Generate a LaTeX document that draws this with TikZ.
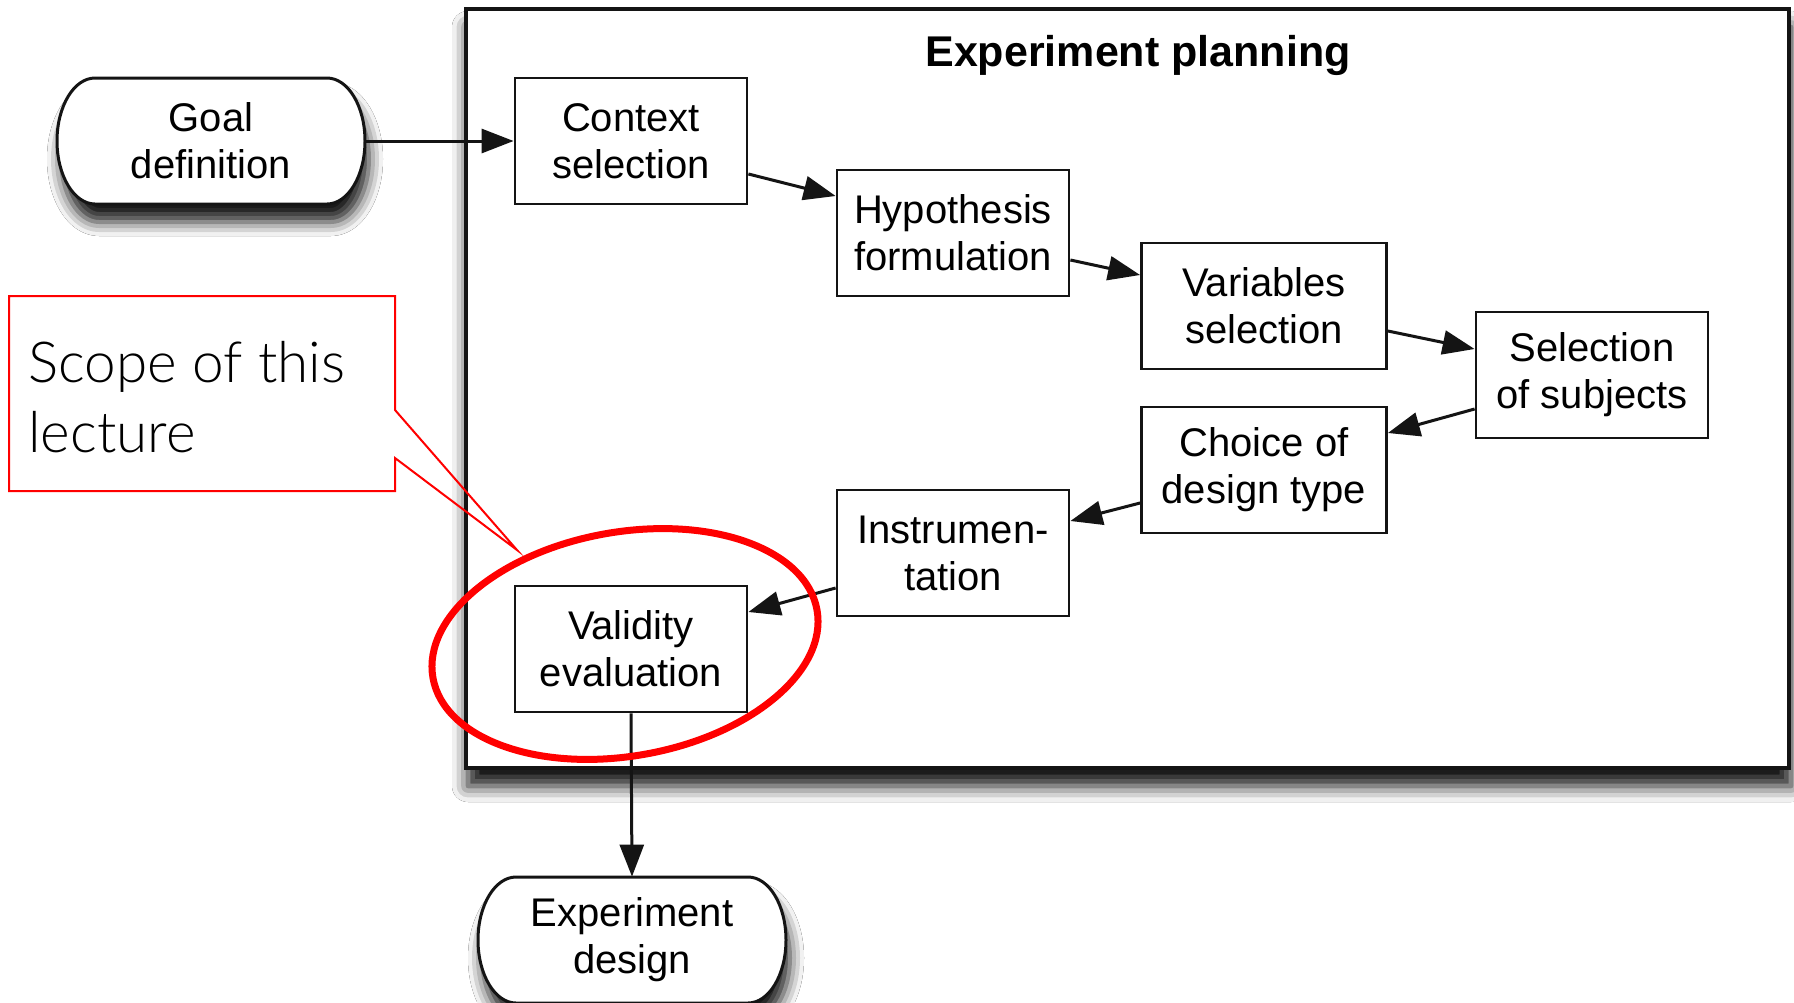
\documentclass[tikz,border=0pt]{standalone}
\usepackage{fontspec}
\setmainfont{Liberation Sans}
\IfFontExistsTF{Lato Light}{\newfontfamily\calloutfont{Lato Light}}{\newfontfamily\calloutfont{Carlito}}
\usepackage{tikz}
\usetikzlibrary{arrows.meta, shadows.blur}
\definecolor{scopered}{RGB}{255,0,0}
\definecolor{inkgray}{gray}{0.08}

\begin{document}
\begin{tikzpicture}[x=0.5pt, y=-0.5pt,
	stepbox/.style={draw=inkgray, line width=1.4pt, minimum width=116pt, minimum height=63pt, align=center, inner sep=1pt, font=\fontsize{20pt}{23.5pt}\selectfont},
	widebox/.style={stepbox, minimum width=122.5pt},
	endbox/.style={minimum width=154pt, minimum height=63pt, align=center, inner sep=0pt, font=\fontsize{20pt}{23.5pt}\selectfont},
	flow/.style={draw=inkgray, line width=1.5pt, -{Triangle[length=16pt, width=12pt]}},
	dropshadow/.style={blur shadow={shadow xshift=2pt, shadow yshift=-9pt, shadow blur radius=7pt, shadow opacity=90}},
	scopering/.style={draw=scopered, line width=3.5pt},
	calloutline/.style={draw=scopered, line width=1pt},
]

\def \capx{19pt}  % end cap depth of the rounded boxes
\def \caph{31.5pt} % half height of the rounded boxes

\newcommand{\drawstadium}[2]{%
	\begin{scope}[shift={(#1,#2)}]
		\draw[inkgray, line width=1.5pt, fill=white, dropshadow] (-58pt,\caph) -- (58pt,\caph)
			arc[start angle=90, end angle=-90, x radius=\capx, y radius=\caph]
			-- (-58pt,-\caph)
			arc[start angle=270, end angle=90, x radius=\capx, y radius=\caph] -- cycle;
	\end{scope}
}

\fill[white] (0,0) rectangle (1794,1002);
\useasboundingbox (0,0) rectangle (1794,1002);

% planning frame
\node[draw=inkgray, line width=2pt, fill=white, minimum width=661.5pt, minimum height=379.5pt, inner sep=0pt,
	blur shadow={shadow xshift=1pt, shadow yshift=-9pt, shadow blur radius=8pt, shadow opacity=95}] (planning) at (1127.5,388.5) {};
\node[anchor=base, font=\bfseries\fontsize{21.5pt}{24pt}\selectfont] (planningtitle) at (1138,66) {Experiment planning};

% start and end
\drawstadium{211}{141}
\node[endbox] (goal) at (211,141) {Goal\\definition};
\drawstadium{632}{940}
\node[endbox] (design) at (632,940) {Experiment\\design};

% steps
\node[stepbox] (ctx) at (631,141)  {Context\\selection};
\node[stepbox] (hyp) at (953,233)  {Hypothesis\\formulation};
\node[widebox] (var) at (1264,306) {Variables\\selection};
\node[stepbox] (sel) at (1592,375) {Selection\\of subjects};
\node[widebox] (cho) at (1264,470) {Choice of\\design type};
\node[stepbox] (ins) at (953,553)  {Instrumen-\\tation};
\node[stepbox] (val) at (631,649)  {Validity\\evaluation};

\draw[flow] (goal.east) -- (ctx.west);
\foreach \from/\to/\ya/\yb in {ctx/hyp/-16.5pt/18.5pt, hyp/var/-13.5pt/15.5pt, var/sel/-12.5pt/13pt} {
	\draw[flow] ([yshift=\ya]\from.east) -- ([yshift=\yb]\to.west); % forward row
}
\foreach \from/\to/\ya/\yb in {sel/cho/-17pt/18.5pt, cho/ins/-16.5pt/16pt, ins/val/-17.5pt/18.5pt} {
	\draw[flow] ([yshift=\ya]\from.west) -- ([yshift=\yb]\to.east); % back row
}
\draw[flow] (val.south) -- (design.north);

% scope marking
\draw[scopering, rotate around={10:(625,644)}] (625,644) ellipse [x radius=97.5pt, y radius=56pt];

\coordinate (callouttip) at (517,550);
\draw[calloutline] (9,296) -- (395,296) -- (395,410) -- (callouttip) -- (395,458) -- (395,491) -- (9,491) -- cycle;
\node[anchor=base west, align=left, inner sep=0pt, font=\calloutfont\fontsize{28.3pt}{35pt}\selectfont] (scope) at (28,452) {Scope of this\\lecture}; % base = last line

\end{tikzpicture}
\end{document}
